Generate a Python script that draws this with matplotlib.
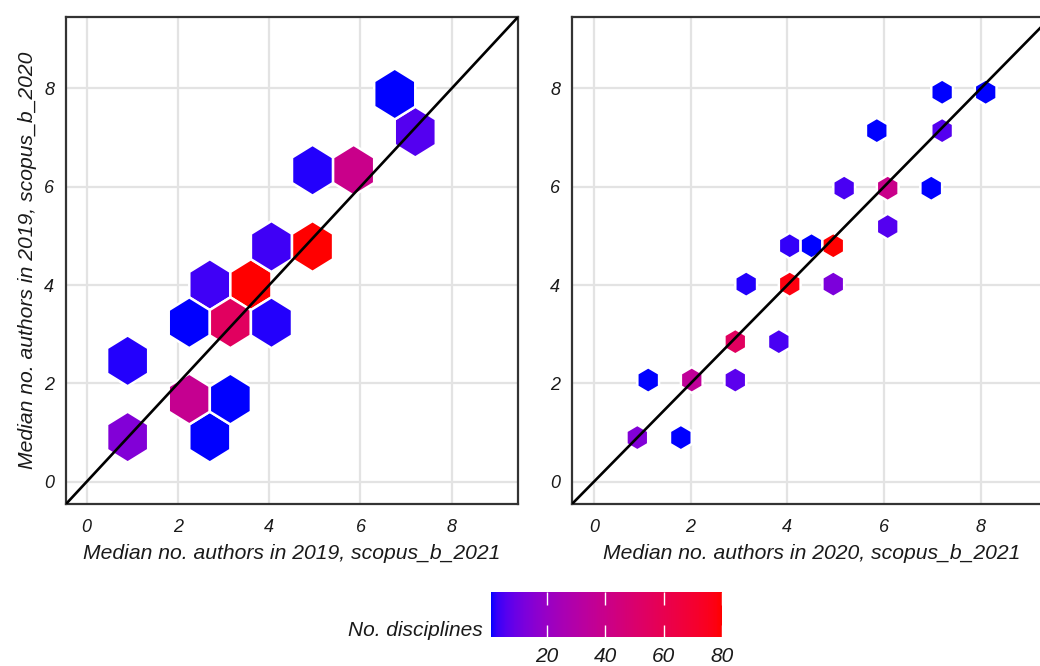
import numpy as np
import matplotlib
matplotlib.use("Agg")
import matplotlib.pyplot as plt
from matplotlib.colors import ListedColormap, Normalize
from matplotlib.cm import ScalarMappable

# ---------------- data (hexagon bin centres and counts) ----------------
left_x = [0.9, 0.9, 2.25, 3.15, 2.7, 2.25, 3.15, 4.05, 2.7, 3.6, 4.05, 4.95, 4.95, 5.85, 6.75, 7.2]
left_y = [0.91, 2.46, 1.685, 1.685, 0.91, 3.235, 3.235, 3.235, 4.01, 4.01, 4.785, 4.785, 6.335, 6.335, 7.885, 7.11]
left_n = [14, 2, 38, 1, 1, 1, 55, 2, 4, 80, 4, 80, 2, 40, 1, 6]

right_x = [0.9, 1.8, 1.125, 2.025, 2.925, 2.925, 3.825, 3.15, 4.05, 4.95, 4.05, 4.5, 4.95,
           6.075, 5.175, 6.075, 6.975, 5.85, 7.2, 7.2, 8.1]
right_y = [0.90, 0.90, 2.07, 2.07, 2.07, 2.85, 2.85, 4.02, 4.02, 4.02, 4.80, 4.80, 4.80,
           5.19, 5.97, 5.97, 5.97, 7.14, 7.14, 7.92, 7.92]
right_n = [14, 1, 1, 35, 7, 55, 5, 2, 78, 13, 3, 1, 80, 6, 5, 40, 1, 1, 6, 1, 1]

axis_ticks = [0, 2, 4, 6, 8]
cbar_ticks = [20, 40, 60, 80]
left_xlabel = "Median no. authors in 2019, scopus_b_2021"
left_ylabel = "Median no. authors in 2019, scopus_b_2020"
right_xlabel = "Median no. authors in 2020, scopus_b_2021"
legend_title = "No. disciplines"

# ---------------- Lab-space blue -> red gradient ----------------
M = np.array([[0.4124564, 0.3575761, 0.1804375],
              [0.2126729, 0.7151522, 0.0721750],
              [0.0193339, 0.1191920, 0.9503041]])
WHITE = M @ np.ones(3)


def _to_lin(c):
    c = np.asarray(c, float)
    return np.where(c <= 0.04045, c / 12.92, ((c + 0.055) / 1.055) ** 2.4)


def _from_lin(c):
    c = np.clip(c, 0, None)
    return np.where(c <= 0.0031308, 12.92 * c, 1.055 * np.power(c, 1 / 2.4) - 0.055)


def rgb2lab(rgb):
    xyz = (M @ _to_lin(rgb)) / WHITE
    d = 6 / 29
    f = np.where(xyz > d ** 3, np.cbrt(xyz), xyz / (3 * d ** 2) + 4 / 29)
    return np.array([116 * f[1] - 16, 500 * (f[0] - f[1]), 200 * (f[1] - f[2])])


def lab2rgb(lab):
    L, a, b = lab
    d = 6 / 29
    fy = (L + 16) / 116
    f = np.array([fy + a / 500, fy, fy - b / 200])
    xyz = np.where(f > d, f ** 3, 3 * d ** 2 * (f - 4 / 29)) * WHITE
    lin = np.linalg.solve(M, xyz)
    return np.clip(_from_lin(lin), 0, 1)


lab0 = rgb2lab([0, 0, 1])
lab1 = rgb2lab([1, 0, 0])
cols = [lab2rgb(lab0 + (lab1 - lab0) * t) for t in np.linspace(0, 1, 256)]
cmap = ListedColormap(cols)
norm = Normalize(vmin=1, vmax=80)

# ---------------- figure ----------------
plt.rcParams["font.family"] = ["Liberation Sans", "DejaVu Sans"]
W, H = 1040, 666
fig = plt.figure(figsize=(W / 100, H / 100), dpi=100)


def fr(x0, y0, x1, y1):
    return [x0 / W, 1 - y1 / H, (x1 - x0) / W, (y1 - y0) / H]


ax1 = fig.add_axes(fr(66, 17, 518, 504))
ax2 = fig.add_axes(fr(572, 17, 1051, 504))

txt_col = "#1a1a1a"
TICK_FS = 13
TITLE_FS = 15.2

for ax, xs, ys, ns, gs, ext, xl in [
    (ax1, left_x, left_y, left_n, (10, 6), (0.0, 9.0, -0.64, 8.66), left_xlabel),
    (ax2, right_x, right_y, right_n, (20, 11), (0.0, 9.0, 0.12, 8.70), right_xlabel),
]:
    ax.hexbin(xs, ys, C=ns, gridsize=gs, extent=ext, reduce_C_function=np.sum,
              cmap=cmap, norm=norm, edgecolors="white", linewidths=1.8, zorder=2)
    ax.axline((0, 0), slope=1, color="black", lw=1.9, zorder=3)
    ax.set_xlim(-0.45, 9.45)
    ax.set_ylim(-0.45, 9.45)
    ax.set_xticks(axis_ticks)
    ax.set_yticks(axis_ticks)
    ax.grid(True, color="#E3E3E3", lw=1.6)
    ax.set_axisbelow(True)
    ax.tick_params(length=0, labelsize=TICK_FS, labelcolor=txt_col)
    ax.tick_params(axis="x", pad=11)
    ax.tick_params(axis="y", pad=8.5)
    for lab in ax.get_xticklabels() + ax.get_yticklabels():
        lab.set_fontstyle("italic")
    for sp in ax.spines.values():
        sp.set_color("#333333")
        sp.set_linewidth(1.6)
    ax.set_xlabel(xl, fontsize=TITLE_FS, style="italic", color=txt_col, labelpad=5.5)

ax1.set_ylabel(left_ylabel, fontsize=TITLE_FS, style="italic", color=txt_col, labelpad=5)

# ---------------- colourbar ----------------
cax = fig.add_axes(fr(491, 592, 722, 637))
cb = fig.colorbar(ScalarMappable(norm=norm, cmap=cmap), cax=cax,
                  orientation="horizontal", ticks=cbar_ticks)
cb.outline.set_visible(False)
cax.tick_params(direction="in", length=9, width=1, color="white",
                top=True, bottom=True, labelsize=15, labelcolor=txt_col, pad=7)
for lab in cax.get_xticklabels():
    lab.set_fontstyle("italic")
fig.text(483 / W, 1 - 631 / H, legend_title, ha="right", va="center",
         fontsize=15, style="italic", color=txt_col)

fig.savefig("out.png", dpi=100)
